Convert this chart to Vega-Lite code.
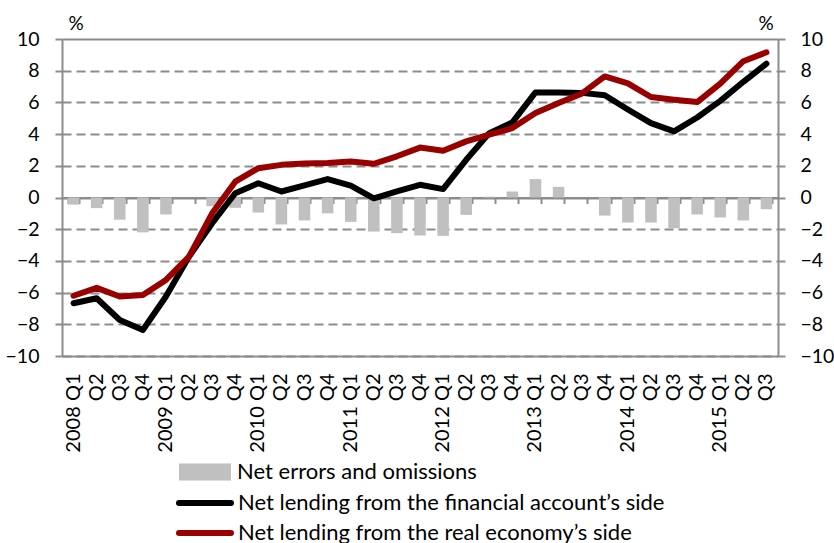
{
  "$schema": "https://vega.github.io/schema/vega-lite/v6.json",
  "width": 716,
  "height": 317,
  "autosize": "none",
  "padding": {"left": 62, "top": 39, "right": 56, "bottom": 187},
  "background": "white",
  "config": {
    "font": "Lato",
    "view": {"stroke": null},
    "axis": {"labelFont": "Lato", "labelFontSize": 19.5, "labelColor": "black", "titleFont": "Lato", "titleFontSize": 19, "titleFontWeight": "normal", "titleColor": "black", "domainColor": "#8c8c8c", "domainWidth": 2, "tickColor": "#8c8c8c", "tickWidth": 2},
    "legend": {"labelFont": "Lato", "labelFontSize": 22, "labelColor": "black", "labelLimit": 700, "padding": 0}
  },
  "data": {"values": [
    {"q": "2008 Q1", "errors": -0.45, "financial": -6.67, "real": -6.2},
    {"q": "2008 Q2", "errors": -0.67, "financial": -6.36, "real": -5.7},
    {"q": "2008 Q3", "errors": -1.4, "financial": -7.73, "real": -6.25},
    {"q": "2008 Q4", "errors": -2.2, "financial": -8.36, "real": -6.15},
    {"q": "2009 Q1", "errors": -1.07, "financial": -6.25, "real": -5.2},
    {"q": "2009 Q2", "errors": 0, "financial": -3.73, "real": -3.73},
    {"q": "2009 Q3", "errors": -0.55, "financial": -1.62, "real": -1.0},
    {"q": "2009 Q4", "errors": -0.65, "financial": 0.27, "real": 1.0},
    {"q": "2010 Q1", "errors": -0.95, "financial": 0.9, "real": 1.85},
    {"q": "2010 Q2", "errors": -1.7, "financial": 0.38, "real": 2.06},
    {"q": "2010 Q3", "errors": -1.45, "financial": 0.76, "real": 2.15},
    {"q": "2010 Q4", "errors": -1.0, "financial": 1.16, "real": 2.17},
    {"q": "2011 Q1", "errors": -1.54, "financial": 0.75, "real": 2.27},
    {"q": "2011 Q2", "errors": -2.15, "financial": -0.05, "real": 2.13},
    {"q": "2011 Q3", "errors": -2.25, "financial": 0.38, "real": 2.6},
    {"q": "2011 Q4", "errors": -2.4, "financial": 0.8, "real": 3.15},
    {"q": "2012 Q1", "errors": -2.42, "financial": 0.53, "real": 2.95},
    {"q": "2012 Q2", "errors": -1.1, "financial": 2.38, "real": 3.54},
    {"q": "2012 Q3", "errors": 0.05, "financial": 4.06, "real": 3.96},
    {"q": "2012 Q4", "errors": 0.38, "financial": 4.74, "real": 4.38},
    {"q": "2013 Q1", "errors": 1.16, "financial": 6.63, "real": 5.33},
    {"q": "2013 Q2", "errors": 0.67, "financial": 6.63, "real": 5.96},
    {"q": "2013 Q3", "errors": 0, "financial": 6.6, "real": 6.55},
    {"q": "2013 Q4", "errors": -1.14, "financial": 6.45, "real": 7.64},
    {"q": "2014 Q1", "errors": -1.58, "financial": 5.55, "real": 7.2},
    {"q": "2014 Q2", "errors": -1.58, "financial": 4.69, "real": 6.34},
    {"q": "2014 Q3", "errors": -1.94, "financial": 4.17, "real": 6.17},
    {"q": "2014 Q4", "errors": -1.07, "financial": 5.05, "real": 6.02},
    {"q": "2015 Q1", "errors": -1.26, "financial": 6.1, "real": 7.18},
    {"q": "2015 Q2", "errors": -1.45, "financial": 7.3, "real": 8.6},
    {"q": "2015 Q3", "errors": -0.74, "financial": 8.44, "real": 9.16}
  ]},
  "encoding": {
    "x": {"field": "q", "type": "ordinal", "sort": null, "scale": {"paddingInner": 0.5, "paddingOuter": 0.25}}
  },
  "layer": [
    {
      "mark": {"type": "bar"},
      "encoding": {
        "x": {"field": "q", "type": "ordinal", "sort": null, "title": null,
          "axis": {"orient": "bottom", "labelAngle": -90, "labelPadding": 17, "labelFontSize": 20, "ticks": false, "domain": true, "grid": false,
            "labelExpr": "indexof(datum.label, 'Q1') >= 0 ? datum.label : slice(datum.label, 5)"}},
        "y": {"field": "errors", "type": "quantitative", "scale": {"domain": [-10, 10], "nice": false, "zero": false},
          "axis": {"orient": "left", "values": [-10, -8, -6, -4, -2, 0, 2, 4, 6, 8, 10], "tickSize": 7, "labelPadding": 16,
            "grid": true, "gridColor": "#8c8c8c", "gridWidth": 2,
            "gridDash": {"condition": {"test": "datum.value == 10 || datum.value == 0", "value": [1, 0]}, "value": [9, 5]},
            "title": "%", "titleAngle": 0, "titleAlign": "left", "titleBaseline": "alphabetic", "titleX": 6, "titleY": -10}},
        "fill": {"datum": "Net errors and omissions", "type": "nominal", "scale": {"range": ["#c0c0c0"]},
          "legend": {"title": null, "orient": "none", "legendX": 117, "legendY": 407,
            "symbolType": "M-1,-0.327H1V0.327H-1Z", "symbolSize": 2704, "symbolStrokeWidth": 0, "labelOffset": 6}}
      }
    },
    {
      "mark": {"type": "line", "strokeWidth": 6, "strokeJoin": "round", "strokeCap": "round"},
      "encoding": {
        "x": {"field": "q", "type": "ordinal", "sort": null, "title": null,
          "axis": {"orient": "bottom", "offset": -158.5, "labels": false, "ticks": true, "tickBand": "extent", "tickSize": 6, "domain": true, "grid": false}},
        "y": {"field": "financial", "type": "quantitative", "scale": {"domain": [-10, 10], "nice": false, "zero": false},
          "axis": {"orient": "right", "values": [-10, -8, -6, -4, -2, 0, 2, 4, 6, 8, 10], "tickSize": 7, "labelPadding": 15, "grid": false,
            "title": "%", "titleAngle": 0, "titleAlign": "left", "titleBaseline": "alphabetic", "titleX": -20, "titleY": -10}},
        "stroke": {"datum": "Net lending from the financial account’s side", "type": "nominal", "scale": {"range": ["#000000"]},
          "legend": {"title": null, "orient": "none", "legendX": 114, "legendY": 435, "symbolType": "stroke", "symbolSize": 2704,
            "symbolStrokeWidth": 6, "labelOffset": 4,
            "encode": {"symbols": {"update": {"strokeCap": {"value": "round"}}}}}}
      }
    },
    {
      "mark": {"type": "line", "strokeWidth": 6, "strokeJoin": "round", "strokeCap": "round"},
      "encoding": {
        "x": {"field": "q", "type": "ordinal", "sort": null, "axis": null},
        "y": {"field": "real", "type": "quantitative", "scale": {"domain": [-10, 10], "nice": false, "zero": false}, "axis": null},
        "stroke": {"datum": "Net lending from the real economy’s side", "type": "nominal", "scale": {"range": ["#990000"]},
          "legend": {"title": null, "orient": "none", "legendX": 114, "legendY": 465, "symbolType": "stroke", "symbolSize": 2704,
            "symbolStrokeWidth": 6, "labelOffset": 4,
            "encode": {"symbols": {"update": {"strokeCap": {"value": "round"}}}}}}
      }
    }
  ],
  "resolve": {"scale": {"y": "independent", "stroke": "independent"}, "axis": {"x": "independent", "y": "independent"}, "legend": {"fill": "independent", "stroke": "independent"}}
}
